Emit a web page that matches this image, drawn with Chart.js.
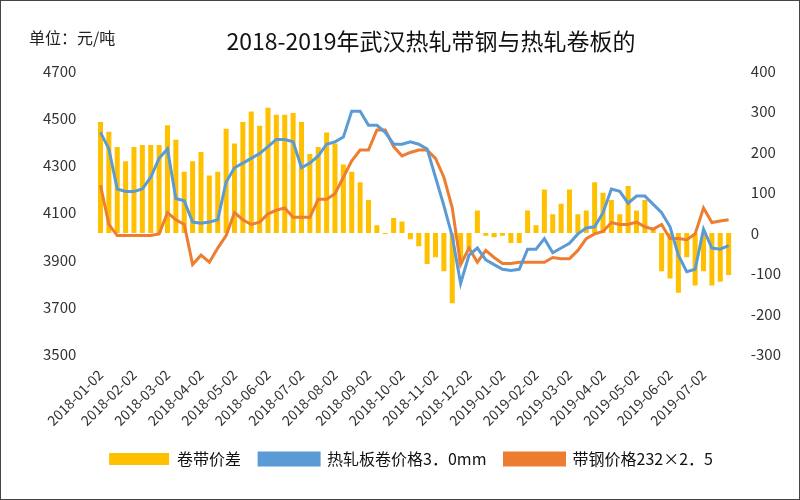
<!DOCTYPE html>
<html><head><meta charset="utf-8">
<script src="https://cdn.jsdelivr.net/npm/chart.js@4/dist/chart.umd.min.js"></script>
<style>
body{margin:0;background:#fff;font-family:"Noto Sans CJK SC",sans-serif;}
#wrap{position:relative;width:798px;height:498px;border:1px solid #444;}
#unit{position:absolute;left:28px;top:24px;font-size:16px;color:#222;}
#ttl{position:absolute;left:0;width:800px;text-align:center;top:22px;font-size:23px;color:#111;padding-left:60px;box-sizing:border-box}
</style></head><body>
<div id="wrap"><canvas id="c" width="798" height="498"></canvas>
<div id="unit">单位：元/吨</div><div id="ttl">2018-2019年武汉热轧带钢与热轧卷板的</div></div>
<script>
const months=["2018-01","2018-02","2018-03","2018-04","2018-05","2018-06","2018-07","2018-08","2018-09","2018-10","2018-11","2018-12","2019-01","2019-02","2019-03","2019-04","2019-05","2019-06","2019-07"];
const days=["02","09","16","23"];
const categories=[];months.forEach(m=>days.forEach(d=>categories.push(m+"-"+d)));
const spread=[274,250,212,177,212,217,217,217,266,230,151,177,200,142,151,257,221,274,300,265,309,292,292,296,274,195,212,248,221,169,151,125,81,19,-3,37,28,-16,-33,-77,-60,-95,-174,-77,-42,55,-7,-11,-7,-25,-25,55,19,107,46,72,107,46,55,125,99,81,46,116,55,81,11,-95,-113,-148,-60,-130,-95,-130,-121,-104];
const coilPrice=[4440,4370,4200,4190,4190,4200,4250,4330,4370,4160,4150,4060,4055,4060,4070,4230,4290,4310,4330,4350,4380,4410,4410,4400,4290,4310,4340,4390,4400,4420,4530,4530,4470,4470,4440,4390,4390,4400,4390,4370,4250,4130,4000,3800,3920,3950,3900,3880,3860,3855,3860,3945,3945,3990,3930,3950,3970,4010,4035,4040,4100,4200,4190,4140,4170,4170,4135,4100,4040,3920,3850,3860,4030,3950,3945,3960];
const stripPrice=[4216,4050,4003,4003,4003,4003,4003,4010,4100,4070,4050,3880,3920,3890,3950,4003,4100,4070,4050,4060,4095,4110,4120,4080,4080,4080,4157,4157,4180,4250,4320,4365,4365,4450,4450,4380,4340,4355,4365,4365,4330,4250,4120,3880,3950,3890,3940,3910,3885,3885,3890,3890,3890,3890,3910,3905,3905,3940,3990,4010,4020,4058,4050,4050,4060,4040,4030,4050,3990,3990,3985,4010,4120,4058,4065,4070];
const F="'Noto Sans CJK SC', sans-serif";
new Chart(document.getElementById('c'),{
 data:{labels:categories,datasets:[
  {type:'bar',label:'卷带价差',data:spread,yAxisID:'y1',backgroundColor:'#ffc000',barPercentage:0.6,categoryPercentage:1,order:3},
  {type:'line',label:'热轧板卷价格3．0mm',data:coilPrice,yAxisID:'y',borderColor:'#5b9bd5',backgroundColor:'#5b9bd5',borderWidth:3,pointRadius:0,tension:0,order:1},
  {type:'line',label:'带钢价格232×2．5',data:stripPrice,yAxisID:'y',borderColor:'#ed7d31',backgroundColor:'#ed7d31',borderWidth:3,pointRadius:0,tension:0,order:2}
 ]},
 options:{responsive:false,animation:false,
  layout:{padding:{top:70,left:30,right:8,bottom:22}},
  plugins:{legend:{position:'bottom',labels:{sort:(a,b)=>a.datasetIndex-b.datasetIndex,boxWidth:60,boxHeight:12,font:{family:F,size:16},color:'#111',padding:18}},tooltip:{enabled:false}},
  scales:{
   x:{grid:{display:false},border:{display:false},ticks:{autoSkip:false,maxRotation:45,minRotation:45,padding:4,font:{family:F,size:14},color:'#333',
      callback:function(v,i){return i%4===0?categories[i]:null;}}},
   y:{min:3500,max:4700,position:'left',grid:{display:false},border:{display:false},ticks:{stepSize:200,padding:12,font:{family:F,size:15},color:'#333',callback:v=>String(v)}},
   y1:{min:-300,max:400,position:'right',grid:{display:false},border:{display:false},ticks:{stepSize:100,padding:10,font:{family:F,size:15},color:'#333',callback:v=>String(v)}}
  }}
});
</script></body></html>
